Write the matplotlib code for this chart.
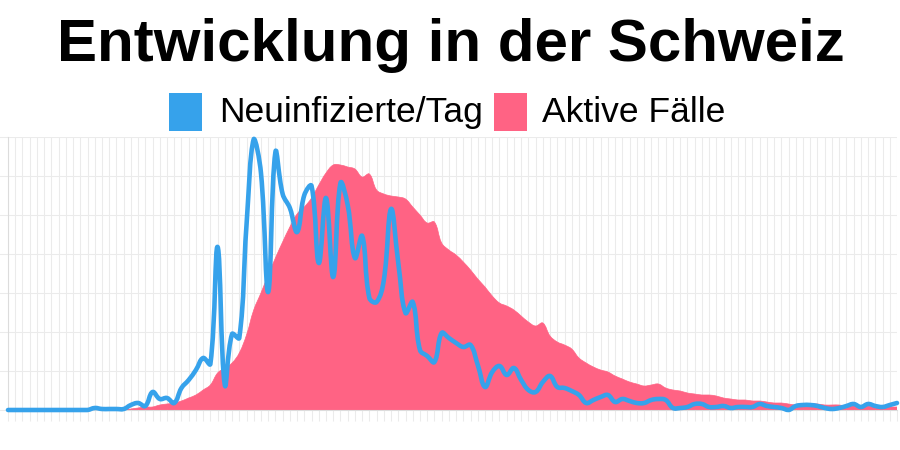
import numpy as np
import matplotlib
matplotlib.use('Agg')
import matplotlib.pyplot as plt
from matplotlib.path import Path
from matplotlib.patches import PathPatch, Rectangle

# values (chart units, one per day, no axis labels shown)
neuinfizierte = [0, 0, 0, 0, 0, 0, 0, 0, 0, 0, 0, 0, 2, 1, 1, 1, 1, 5, 7, 4,
                 18, 11, 12, 7, 22, 30, 40, 52, 46, 163, 25, 76, 72, 185, 271, 237, 118, 258, 216, 202,
                 178, 215, 224, 147, 212, 133, 227, 205, 152, 174, 112, 108, 130, 201, 147, 97, 108, 60, 54, 48,
                 77, 72, 67, 63, 65, 45, 23, 38, 44, 35, 42, 30, 20, 18, 28, 34, 23, 22, 19, 15,
                 7, 10, 13, 15, 8, 11, 9, 7, 7, 10, 11, 10, 2, 2, 3, 6, 6, 3, 3, 4,
                 2, 3, 3, 3, 6, 4, 3, 2, 0, 4, 5, 5, 4, 2, 1, 2, 4, 6, 3, 6,
                 4, 3, 5, 7]
aktive = [0, 0, 0, 0, 0, 0, 0, 0, 0, 0, 0, 0, 0, 0, 0, 0, 0, 1, 2, 3,
          3, 5, 6, 7, 9, 12, 15, 20, 25, 37, 42, 47, 57, 75, 100, 117, 135, 152, 168, 183,
          196, 203, 212, 225, 237, 245, 245, 243, 241, 233, 236, 220, 216, 214, 213, 211, 203, 195, 187, 188,
          167, 160, 155, 148, 140, 131, 123, 114, 107, 104, 100, 94, 88, 84, 87, 74, 68, 65, 61, 52,
          47, 43, 40, 38, 34, 31, 28, 26, 24, 25, 26, 22, 20, 19, 17, 16, 15, 15, 14, 12,
          11, 10, 10, 9, 9, 8, 7, 7, 6, 5, 5, 6, 6, 5, 5, 5, 4, 4, 4, 4,
          3, 3, 3, 3]
titel = 'Entwicklung in der Schweiz'
legende = ['Neuinfizierte/Tag', 'Aktive Fälle']
farben = ['#36a2eb', '#ff6384']
y_max = 273
y_schritt = 39


def spline_path(ax, xs, ys, tension=0.4):
    # chart.js style bezier smoothing, computed in pixel space
    pts = ax.transData.transform(np.column_stack([xs, ys]))
    bb = ax.bbox
    n = len(pts)
    cp_prev = np.zeros_like(pts)
    cp_next = np.zeros_like(pts)
    for i in range(n):
        prev = pts[max(i - 1, 0)]
        cur = pts[i]
        nxt = pts[min(i + 1, n - 1)]
        d01 = np.hypot(*(cur - prev))
        d12 = np.hypot(*(nxt - cur))
        tot = d01 + d12
        s01 = d01 / tot if tot > 0 else 0
        s12 = d12 / tot if tot > 0 else 0
        cp_prev[i] = cur - tension * s01 * (nxt - prev)
        cp_next[i] = cur + tension * s12 * (nxt - prev)
    for cp in (cp_prev, cp_next):
        cp[:, 0] = np.clip(cp[:, 0], bb.x0, bb.x1)
        cp[:, 1] = np.clip(cp[:, 1], bb.y0, bb.y1)
    verts = [pts[0]]
    codes = [Path.MOVETO]
    for i in range(1, n):
        verts += [cp_next[i - 1], cp_prev[i], pts[i]]
        codes += [Path.CURVE4] * 3
    verts = ax.transData.inverted().transform(np.array(verts))
    return verts, codes


fig = plt.figure(figsize=(9, 4.5), dpi=100)
ax = fig.add_axes([8 / 900, 40 / 450, 889 / 900, 273 / 450])
x = np.arange(len(neuinfizierte))
ax.set_xlim(0, len(x) - 1)
ax.set_ylim(0, y_max)

# pink area
v, c = spline_path(ax, x, aktive)
v = np.vstack([v, [[x[-1], 0], [x[0], 0], [x[0], 0]]])
c = c + [Path.LINETO, Path.LINETO, Path.CLOSEPOLY]
ax.add_patch(PathPatch(Path(v, c), facecolor=farben[1], edgecolor=farben[1], lw=0.5, zorder=2))

# blue line
v, c = spline_path(ax, x, neuinfizierte)
ax.add_patch(PathPatch(Path(v, c), facecolor='none', edgecolor=farben[0], lw=3.3,
                       capstyle='round', joinstyle='round', zorder=3, clip_on=False))

ax.set_xticks(x)
ax.set_yticks(np.arange(0, y_max + 1, y_schritt))
ax.grid(True, color='#ebebeb', lw=0.75)
ax.set_axisbelow(True)
ax.tick_params(length=8, width=0.75, color='#ebebeb', labelbottom=False, labelleft=False)
for s in ['top', 'right']:
    ax.spines[s].set_visible(False)
for s in ['left', 'bottom']:
    ax.spines[s].set_color('#dcdcdc')
    ax.spines[s].set_linewidth(0.8)

fig.text(451 / 900, 1 - 61 / 450, titel, ha='center', va='baseline',
         fontsize=43.2, fontweight='bold', family='Liberation Sans')

# legend drawn by hand, like chart.js
boxes = [169, 494]
texte = [219, 542]
for bx, tx, lab, col in zip(boxes, texte, legende, farben):
    fig.add_artist(Rectangle((bx / 900, 1 - 131 / 450), 33 / 900, 38 / 450,
                             transform=fig.transFigure, facecolor=col, edgecolor='none'))
    fig.text(tx / 900, 1 - 122.5 / 450, lab, ha='left', va='baseline',
             fontsize=25.5, family='Liberation Sans')

fig.savefig('out.png', dpi=100)
